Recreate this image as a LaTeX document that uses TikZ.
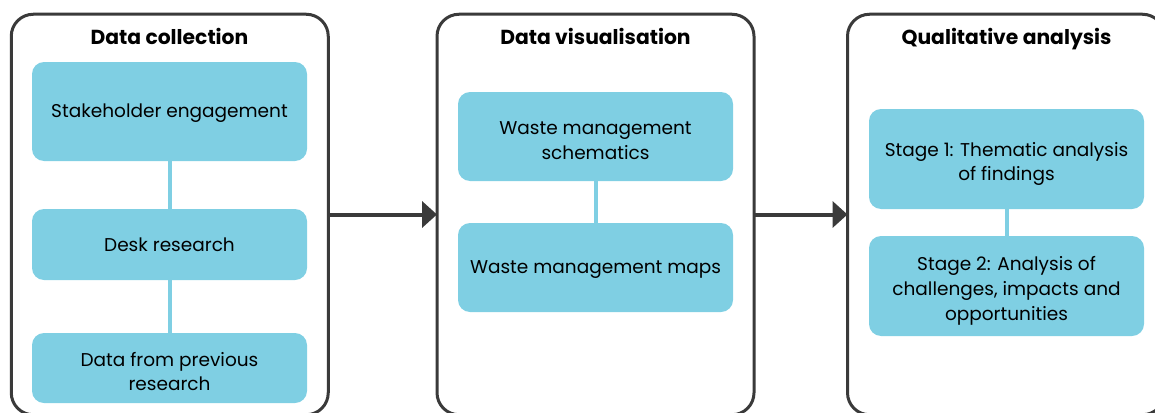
\documentclass[tikz,border=0pt]{standalone}
\usepackage{fontspec}
\setmainfont{Poppins}
\usetikzlibrary{arrows.meta}
\definecolor{boxblue}{RGB}{127,207,227}
\definecolor{framegray}{RGB}{58,58,58}
% fixed ascent/descent on first and last line keeps the text block placed evenly
\newcommand\boxstrut{\rule[-3pt]{0pt}{19pt}}
\newcommand\tallstrut{\rule{0pt}{24pt}}
\begin{document}
\begin{tikzpicture}[x=1pt,y=-1pt,
  panel/.style={draw=framegray, line width=3pt, rounded corners=22pt,
    minimum width=317pt, minimum height=400.5pt, inner sep=0pt, outer sep=0pt},
  paneltitle/.style={anchor=base, inner sep=0pt, font=\fontsize{20.3}{24}\selectfont\bfseries},
  bluebox/.style={fill=boxblue, rounded corners=12pt, minimum width=275pt,
    inner sep=0pt, outer sep=0pt, align=center,
    font=\fontsize{18.5}{24.8}\selectfont,
    execute at begin node=\boxstrut, execute at end node=\boxstrut},
  link/.style={draw=boxblue, line width=4pt},
  flow/.style={draw=framegray, line width=4pt, -{Triangle[length=15pt,width=26pt]}}]
\useasboundingbox (0,0) rectangle (1155,412);

% three stage panels
\node[panel] (p1) at (169.75,214.5) {};
\node[panel] (p2) at (595.5,214.5) {};
\node[panel] (p3) at (1006,214.5) {};

\node[paneltitle] (t1) at (169.5,45) {Data collection};
\node[paneltitle] (t2) at (595.5,45) {Data visualisation};
\node[paneltitle] (t3) at (1006.5,45) {Qualitative analysis};

% data collection
\node[bluebox, minimum height=99pt] (a1) at (169.5,111.5) {Stakeholder engagement};
\node[bluebox, minimum height=71pt] (a2) at (169.5,244.5) {Desk research};
\node[bluebox, minimum height=70pt] (a3) at (169.5,368) {\tallstrut Data from previous\\research};
\draw[link] (a1.south) -- (a2.north);
\draw[link] (a2.south) -- (a3.north);

% data visualisation
\node[bluebox, minimum height=89pt] (b1) at (595.5,136.5) {\tallstrut Waste management\\schematics};
\node[bluebox, minimum height=89pt] (b2) at (595.5,267.5) {Waste management maps};
\draw[link] (b1.south) -- (b2.north);

% qualitative analysis
\node[bluebox, minimum height=100pt] (c1) at (1006.5,159) {\tallstrut Stage 1: Thematic analysis\\of findings};
\node[bluebox, minimum height=100pt] (c2) at (1006.5,286) {\tallstrut Stage 2: Analysis of\\challenges, impacts and\\opportunities};
\draw[link] (c1.south) -- (c2.north);

% flow between stages
\draw[flow] (p1.east) -- (p2.west);
\draw[flow] (p2.east) -- (p3.west);
\end{tikzpicture}
\end{document}
